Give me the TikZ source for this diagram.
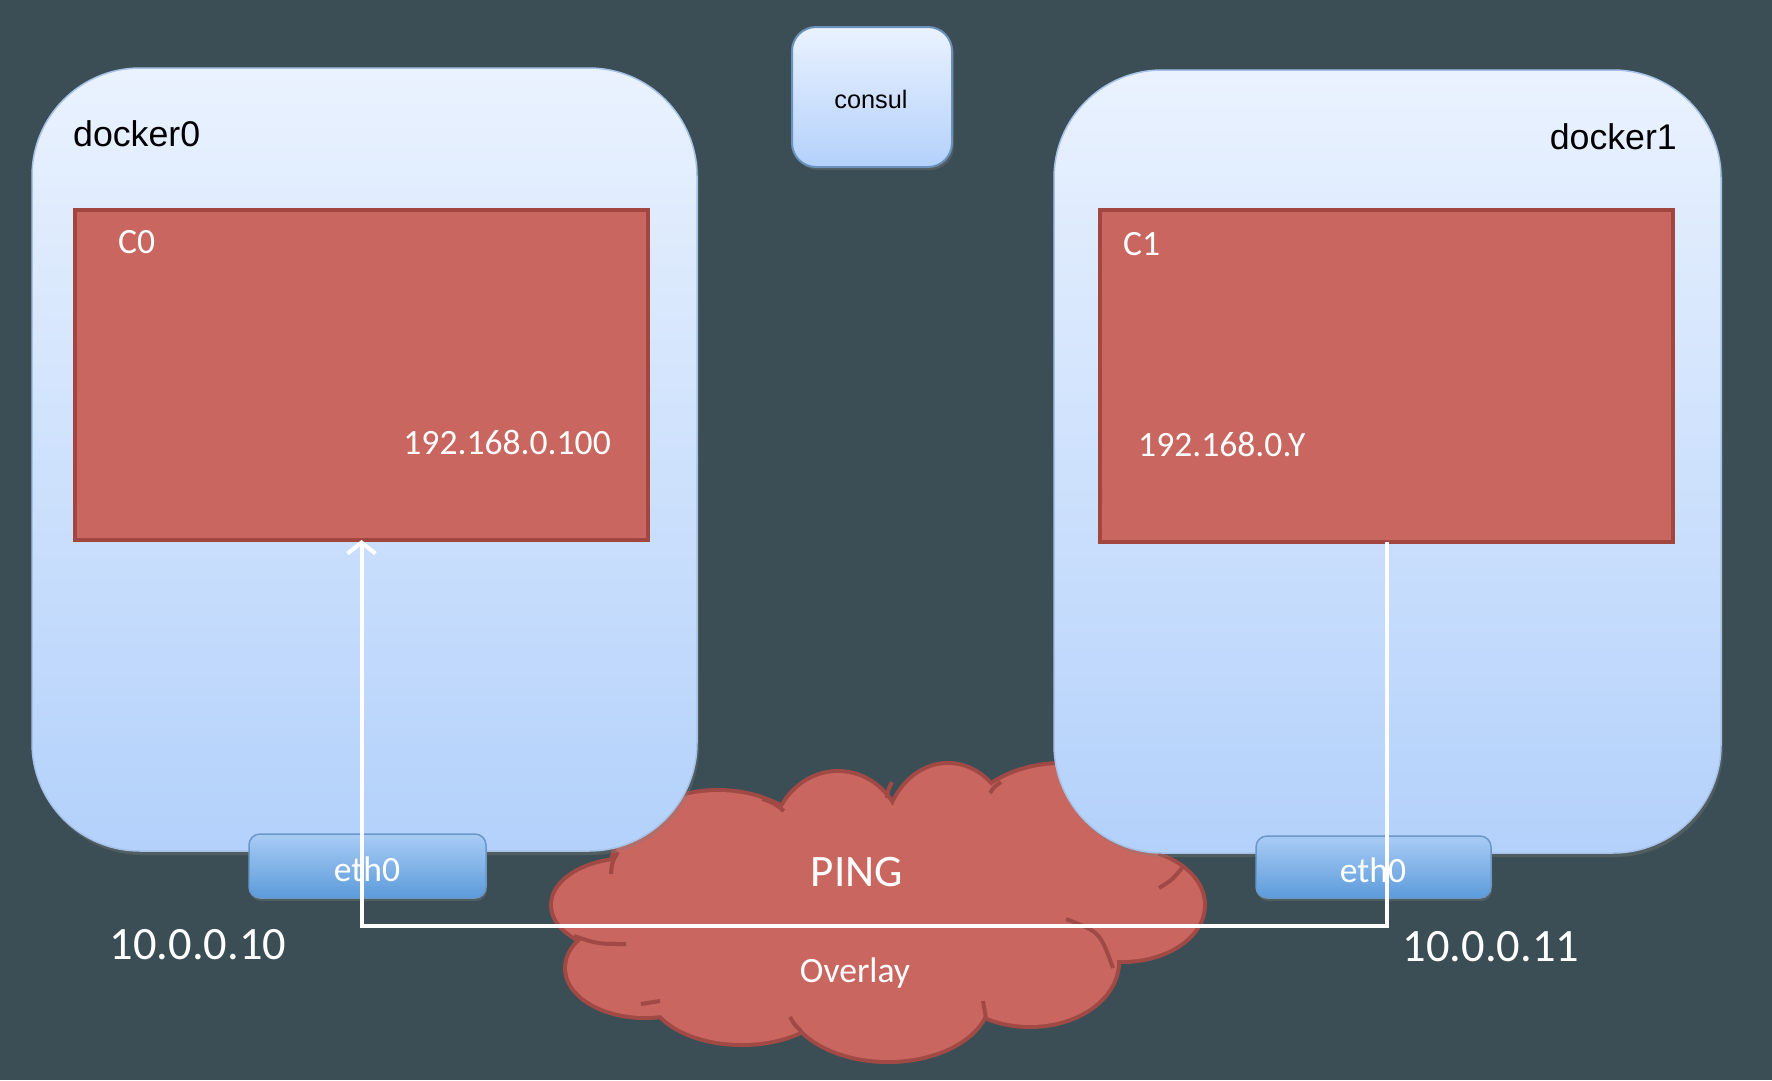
\documentclass[tikz,border=0pt]{standalone}
\usepackage{fontspec}
\setmainfont{Liberation Sans}
\newfontfamily\carl{Carlito}
\usetikzlibrary{arrows.meta,shadows}
\definecolor{bg}{HTML}{3C4E55}
\definecolor{dtop}{HTML}{EAF2FE}
\definecolor{dbot}{HTML}{B3D1FB}
\definecolor{dborder}{HTML}{A6C2E8}
\definecolor{cborder}{HTML}{6A90BC}
\definecolor{redfill}{HTML}{C9665F}
\definecolor{redline}{HTML}{A2473F}
\definecolor{cloudline}{HTML}{A14A45}
\definecolor{etop}{HTML}{A9CCF5}
\definecolor{ebot}{HTML}{5C9BDB}
\definecolor{eborder}{HTML}{6A98C9}
\begin{document}
\begin{tikzpicture}[x=1pt,y=-1pt,
  dockerbox/.style={rectangle, rounded corners=108pt, top color=dtop, bottom color=dbot,
    draw=dborder, line width=1.5pt, inner sep=0pt, outer sep=0pt,
    drop shadow={opacity=0.3, shadow xshift=2pt, shadow yshift=-4pt}},
  consulbox/.style={rectangle, rounded corners=24pt, top color=dtop, bottom color=dbot,
    draw=cborder, line width=2pt, inner sep=0pt, outer sep=0pt,
    drop shadow={opacity=0.3, shadow xshift=2pt, shadow yshift=-3pt}},
  contbox/.style={rectangle, fill=redfill, draw=redline, line width=3.5pt, inner sep=0pt, outer sep=0pt},
  ethbox/.style={rectangle, rounded corners=11pt, top color=etop, bottom color=ebot,
    draw=eborder, line width=1.5pt, inner sep=0pt, outer sep=0pt,
    drop shadow={opacity=0.3, shadow xshift=1pt, shadow yshift=-3pt}},
  blacklbl/.style={text=black, inner sep=0pt, font=\fontsize{35.7}{40}\selectfont},
  whitelbl/.style={text=white, inner sep=0pt, font=\carl\fontsize{35.6}{40}\selectfont},
  cloudstroke/.style={draw=cloudline, line width=8pt},
  cloudfillst/.style={fill=redfill},
  cloudinner/.style={draw=cloudline, line width=4pt},
  pingline/.style={draw=white, line width=4pt}
]
\fill[bg] (0,0) rectangle (1772,1080);
\useasboundingbox (0,0) rectangle (1772,1080);

% cloud
\foreach \cx/\cy/\rx/\ry in {630/905/77/45, 645/968/78/48, 742/990/92/53, 888/998/100/62,
  1030/962/87/63, 1122/905/81/55, 1062/835/100/70, 948/840/62/75, 838/845/65/72, 718/872/106/80}
  {\draw[cloudstroke] (\cx,\cy) ellipse [x radius=\rx pt, y radius=\ry pt];}
\foreach \cx/\cy/\rx/\ry in {630/905/77/45, 645/968/78/48, 742/990/92/53, 888/998/100/62,
  1030/962/87/63, 1122/905/81/55, 1062/835/100/70, 948/840/62/75, 838/845/65/72, 718/872/106/80,
  880/915/260/100}
  {\fill[cloudfillst] (\cx,\cy) ellipse [x radius=\rx pt, y radius=\ry pt];}
% inner arcs of the cloud
\draw[cloudinner] (611,874) .. controls (612,862) .. (618,852);
\draw[cloudinner] (762,799) .. controls (774,803) .. (784,811);
\draw[cloudinner] (887,798) .. controls (888,790) .. (892,782);
\draw[cloudinner] (990,793) .. controls (994,787) .. (1001,782);
\draw[cloudinner] (1159,888) .. controls (1172,880) .. (1182,868);
\draw[cloudinner] (1066,919) .. controls (1100,932) .. (1113,968);
\draw[cloudinner] (626,944) .. controls (598,944) .. (574,936);
\draw[cloudinner] (641,1004) .. controls (650,1002) .. (660,1001);
\draw[cloudinner] (790,1017) .. controls (794,1024) .. (801,1031);
\draw[cloudinner] (983,1001) .. controls (985,1009) .. (986,1018);

% hosts
\node[dockerbox, minimum width=665pt, minimum height=783pt] (d0) at (364.5,459.5) {};
\node[dockerbox, minimum width=667pt, minimum height=783pt] (d1) at (1387.5,461.5) {};
\node[consulbox, minimum width=160pt, minimum height=140pt] (consul) at (872,97) {};
\node[blacklbl, font=\fontsize{25.3}{30}\selectfont] (consullbl) at (871,99.5) {consul};

\node[blacklbl, anchor=west] (d0lbl) at (73,134) {docker0};
\node[blacklbl, anchor=east] (d1lbl) at (1677,137) {docker1};

% containers
\node[contbox, minimum width=573pt, minimum height=330pt] (c0) at (361.5,375) {};
\node[contbox, minimum width=573pt, minimum height=332pt] (c1) at (1386.5,376) {};
\node[whitelbl, anchor=west] (c0lbl) at (118,242) {C0};
\node[whitelbl, anchor=east] (c0ip) at (611,442) {192.168.0.100};
\node[whitelbl, anchor=west] (c1lbl) at (1123,244) {C1};
\node[whitelbl, anchor=west] (c1ip) at (1138,444) {192.168.0.Y};

% interfaces
\node[ethbox, minimum width=237pt, minimum height=64pt] (e0) at (367.5,866) {};
\node[ethbox, minimum width=235pt, minimum height=62pt] (e1) at (1373.5,867) {};
\node[whitelbl] (e0lbl) at (367,869) {eth0};
\node[whitelbl] (e1lbl) at (1373,870) {eth0};

\node[whitelbl, font=\carl\fontsize{46.4}{50}\selectfont] (ip0) at (198,945) {10.0.0.10};
\node[whitelbl, font=\carl\fontsize{46.4}{50}\selectfont] (ip1) at (1491,947) {10.0.0.11};

% cloud labels
\node[whitelbl, font=\carl\fontsize{45}{50}\selectfont] (ping) at (857,872) {PING};
\node[whitelbl] (overlay) at (855,973) {Overlay};

% ping path
\coordinate (turn) at (0,926);
\draw[pingline, -{Straight Barb[length=11pt,width=28pt]}] (c1.south) -- (c1.south |- turn) -| (c0.south);
\end{tikzpicture}
\end{document}
